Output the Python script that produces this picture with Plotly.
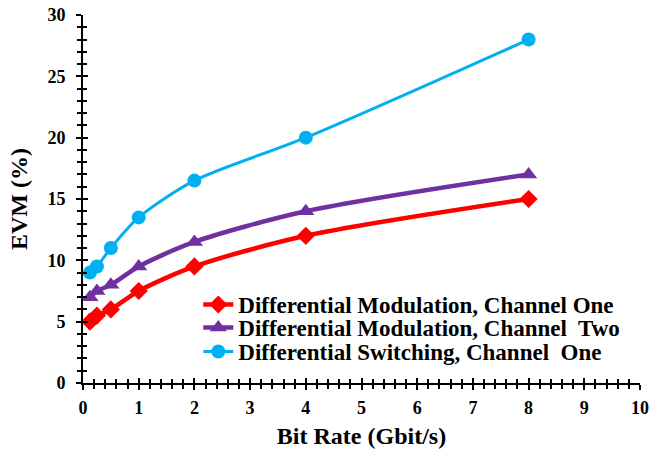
import plotly.graph_objects as go

bit_rate = [0.125, 0.25, 0.5, 1, 2, 4, 8]
dm_ch1 = [5, 5.5, 6, 7.5, 9.5, 12, 15]
dm_ch2 = [7, 7.5, 8, 9.5, 11.5, 14, 17]
ds_ch1 = [9, 9.5, 11, 13.5, 16.5, 20, 28]

names = ["Differential Modulation, Channel One",
         "Differential Modulation, Channel  Two",
         "Differential Switching, Channel  One"]
colors = ["#FF0000", "#7030A0", "#00B0F0"]
symbols = ["diamond", "triangle-up", "circle"]
sizes = [14, 15, 14]
widths = [4.5, 4.5, 3]
series = [dm_ch1, dm_ch2, ds_ch1]
legend_ids = ["legend", "legend2", "legend3"]
legend_y = [0.2132, 0.1507, 0.0855]

FONT = "Liberation Serif"

fig = go.Figure()
for name, ys, c, s, sz, w, lg in zip(names, series, colors, symbols, sizes, widths, legend_ids):
    fig.add_trace(go.Scatter(
        x=bit_rate, y=ys, name=name, mode="lines+markers", legend=lg,
        line=dict(color=c, width=w, shape="spline", smoothing=0.8),
        marker=dict(color=c, symbol=s, size=sz),
    ))

# helper overlay trace for inside (crossing) ticks
fig.add_trace(go.Scatter(x=[None], y=[None], xaxis="x2", yaxis="y2",
                         showlegend=False, hoverinfo="skip"))

tickfont = dict(family=FONT, size=18, color="black", weight="bold")
axis_common = dict(showgrid=False, zeroline=False, tickcolor="black",
                   tickwidth=1.5, ticklen=5, automargin=False)

legend_font = dict(family=FONT, size=23, color="black", weight="bold")
legends = {}
for lg, ly in zip(legend_ids, legend_y):
    legends[lg] = dict(x=0.207, y=ly, xanchor="left", yanchor="middle",
                       bgcolor="rgba(0,0,0,0)", itemwidth=30, font=legend_font)

fig.update_layout(
    width=651, height=451,
    margin=dict(l=82.5, r=11, t=15.3, b=67.5),
    plot_bgcolor="white", paper_bgcolor="white",
    font=dict(family=FONT, color="black"),
    showlegend=True,
    xaxis=dict(range=[0, 10], dtick=1, ticks="outside",
               showline=True, linecolor="black", linewidth=2,
               tickfont=tickfont, ticklabelstandoff=2, ticklabeloverflow="allow",
               minor=dict(dtick=0.2, ticks="outside", ticklen=4, tickwidth=1.5, tickcolor="black"),
               title=dict(text="Bit Rate (Gbit/s)", standoff=11,
                          font=dict(family=FONT, size=24, color="black", weight="bold")),
               **axis_common),
    yaxis=dict(range=[0, 30], dtick=5, ticks="outside",
               showline=True, linecolor="black", linewidth=2,
               tickfont=tickfont, ticklabelstandoff=7, ticklabeloverflow="allow",
               minor=dict(dtick=1, ticks="outside", ticklen=4, tickwidth=1.5, tickcolor="black"),
               title=dict(text="EVM (%)", standoff=13,
                          font=dict(family=FONT, size=24, color="black", weight="bold")),
               **axis_common),
    xaxis2=dict(range=[0, 10], dtick=1, ticks="inside", overlaying="x", anchor="y",
                side="bottom", showticklabels=False, showline=False,
                minor=dict(dtick=0.2, ticks="inside", ticklen=4, tickwidth=1.5, tickcolor="black"),
                **axis_common),
    yaxis2=dict(range=[0, 30], dtick=5, ticks="inside", overlaying="y", anchor="x",
                side="left", showticklabels=False, showline=False,
                minor=dict(dtick=1, ticks="inside", ticklen=4, tickwidth=1.5, tickcolor="black"),
                **axis_common),
    **legends,
)

fig.write_html("out.html", config={"displayModeBar": False},
               post_script="document.body.style.margin='0';document.body.style.overflow='hidden';")
